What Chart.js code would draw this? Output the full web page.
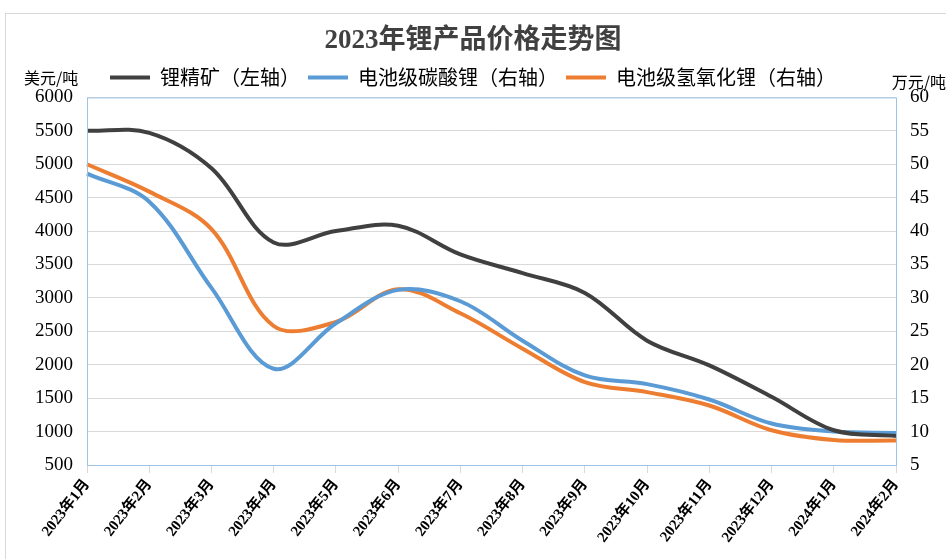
<!DOCTYPE html>
<html>
<head>
<meta charset="utf-8">
<script src="https://cdn.jsdelivr.net/npm/chart.js@4/dist/chart.umd.min.js"></script>
<style>
  html, body { margin: 0; padding: 0; background: #fff; }
  #wrap { width: 946px; height: 559px; }
</style>
</head>
<body>
<div id="wrap"><canvas id="priceChart" width="946" height="559"></canvas></div>
<script>
const months = ['2023年1月', '2023年2月', '2023年3月', '2023年4月', '2023年5月', '2023年6月', '2023年7月',
    '2023年8月', '2023年9月', '2023年10月', '2023年11月', '2023年12月', '2024年1月', '2024年2月'];
// 锂精矿, 美元/吨 (left axis)
const spodumene = [5500, 5470, 4940, 3830, 4000, 4080, 3650, 3370, 3075, 2360, 1990, 1520, 1020, 935];
// 电池级碳酸锂, 万元/吨 (right axis)
const carbonate = [48.6, 44.4, 31.5, 19.4, 26.2, 31.2, 29.5, 23.6, 18.4, 17.1, 14.8, 11.2, 10.0, 9.8];
// 电池级氢氧化锂, 万元/吨 (right axis)
const hydroxide = [50.0, 45.9, 40.3, 25.8, 26.4, 31.3, 27.7, 22.4, 17.4, 15.9, 13.9, 10.2, 8.75, 8.65];

const serif = "'Liberation Serif', 'Times New Roman', 'Noto Sans CJK SC', serif";
const sans = "'Noto Sans CJK SC', 'Microsoft YaHei', sans-serif";

// frame, plot border and axis unit labels
const decor = {
    id: 'decor',
    beforeDraw(chart) {
        const ctx = chart.ctx;
        ctx.save();
        ctx.strokeStyle = '#D9D9D9';
        ctx.lineWidth = 1;
        ctx.strokeRect(5.5, 13.5, 1000, 1000);
        ctx.restore();
    },
    afterDraw(chart) {
        const ctx = chart.ctx;
        const a = chart.chartArea;
        ctx.save();
        ctx.strokeStyle = '#9DC3E6';
        ctx.lineWidth = 1;
        ctx.strokeRect(a.left + 0.5, a.top + 0.5, a.right - a.left, a.bottom - a.top);
        ctx.fillStyle = '#000';
        ctx.font = '16px ' + sans;
        ctx.textBaseline = 'middle';
        ctx.textAlign = 'left';
        ctx.fillText('美元/吨', 24, a.top - 19);
        ctx.textAlign = 'right';
        ctx.fillText('万元/吨', 946, a.top - 15);
        ctx.restore();
    }
};

const plain = value => String(value);

const ctx = document.getElementById('priceChart').getContext('2d');
new Chart(ctx, {
    type: 'line',
    data: {
        labels: months,
        datasets: [
            {
                label: '锂精矿（左轴）',
                data: spodumene,
                borderColor: '#404040',
                backgroundColor: '#404040',
                borderWidth: 4,
                yAxisID: 'y'
            },
            {
                label: '电池级碳酸锂（右轴）',
                data: carbonate,
                borderColor: '#5B9BD5',
                backgroundColor: '#5B9BD5',
                borderWidth: 4,
                yAxisID: 'y2'
            },
            {
                label: '电池级氢氧化锂（右轴）',
                data: hydroxide,
                borderColor: '#ED7D31',
                backgroundColor: '#ED7D31',
                borderWidth: 4,
                yAxisID: 'y2'
            }
        ]
    },
    options: {
        responsive: false,
        animation: false,
        layout: { padding: { left: 0, right: 0, top: 0, bottom: 0 } },
        elements: {
            line: { tension: 0.35 },
            point: { radius: 0, hoverRadius: 0 }
        },
        plugins: {
            title: {
                display: true,
                text: '2023年锂产品价格走势图',
                color: '#404040',
                font: { size: 27, weight: 'bold', family: serif },
                padding: { top: 25, bottom: 2 }
            },
            legend: {
                labels: {
                    usePointStyle: true,
                    pointStyle: 'line',
                    pointStyleWidth: 40,
                    color: '#000',
                    font: { size: 20, family: sans },
                    padding: 8
                }
            },
            tooltip: { enabled: false }
        },
        scales: {
            x: {
                offset: false,
                grid: { drawOnChartArea: false, drawTicks: true, tickLength: 8, color: '#D9D9D9' },
                border: { display: false },
                ticks: {
                    autoSkip: false,
                    minRotation: 52,
                    maxRotation: 52,
                    color: '#000',
                    font: { size: 15, weight: 'bold', family: serif }
                },
                afterFit(scale) { scale.height = 94; }
            },
            y: {
                position: 'left',
                min: 500,
                max: 6000,
                grid: { color: '#D9D9D9', drawTicks: false },
                border: { display: false },
                ticks: { stepSize: 500, padding: 14, color: '#000', font: { size: 19, family: serif }, callback: plain },
                afterFit(scale) { scale.width = 87; }
            },
            y2: {
                position: 'right',
                min: 5,
                max: 60,
                grid: { drawOnChartArea: false, drawTicks: false },
                border: { display: false },
                ticks: { stepSize: 5, padding: 14, color: '#000', font: { size: 19, family: serif }, callback: plain },
                afterFit(scale) { scale.width = 50; }
            }
        }
    },
    plugins: [decor]
});
</script>
</body>
</html>
